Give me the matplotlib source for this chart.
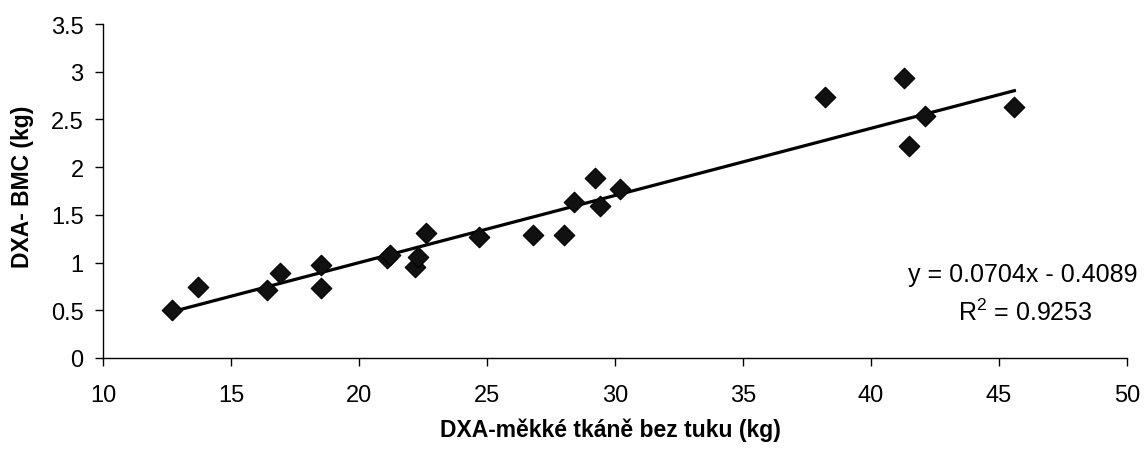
import matplotlib
matplotlib.use("Agg")
import matplotlib.pyplot as plt
import numpy as np

plt.rcParams['font.family'] = ['Liberation Sans', 'DejaVu Sans']

# Data
x_lean = [12.7, 13.7, 16.4, 16.9, 18.5, 18.5, 21.1, 21.2, 22.2, 22.3, 22.6, 24.7,
          26.8, 28.0, 28.4, 29.2, 29.4, 30.2, 38.2, 41.3, 41.5, 42.1, 45.6]
y_bmc = [0.50, 0.74, 0.71, 0.89, 0.97, 0.73, 1.05, 1.08, 0.95, 1.06, 1.31, 1.27,
         1.29, 1.29, 1.63, 1.89, 1.59, 1.77, 2.73, 2.93, 2.22, 2.54, 2.63]
slope = 0.0704
intercept = -0.4089
r2 = 0.9253
x_ticks = [10, 15, 20, 25, 30, 35, 40, 45, 50]
y_ticks = [0, 0.5, 1, 1.5, 2, 2.5, 3, 3.5]
y_tick_labels = ['0', '0.5', '1', '1.5', '2', '2.5', '3', '3.5']

fig = plt.figure(figsize=(11.46, 4.52), dpi=100)
ax = fig.add_axes([103/1146, 1-359/452, (1127-103)/1146, (359-25)/452])

ax.scatter(x_lean, y_bmc, marker='D', s=110, color='#111111', edgecolors='black',
           linewidths=0.8, zorder=3)
xf = np.array([min(x_lean), max(x_lean)])
ax.plot(xf, slope*xf + intercept, color='black', lw=2.3, zorder=2)

ax.set_xlim(10, 50)
ax.set_ylim(0, 3.5)
ax.set_xticks(x_ticks)
ax.set_yticks(y_ticks)
ax.set_yticklabels(y_tick_labels)
for s in ['top', 'right']:
    ax.spines[s].set_visible(False)
for s in ['left', 'bottom']:
    ax.spines[s].set_linewidth(1.0)
ax.tick_params(axis='x', direction='out', length=6, width=1, pad=13, labelsize=17)
ax.tick_params(axis='y', direction='out', length=6, width=1, pad=8, labelsize=17)

ax.set_xlabel('DXA-měkké tkáně bez tuku (kg)', fontsize=16.5, fontweight='bold',
              va='center')
ax.set_ylabel('DXA- BMC (kg)', fontsize=16.5, fontweight='bold', va='center')
ax.xaxis.set_label_coords((610-103)/1024, -(430-359)/334)
ax.yaxis.set_label_coords(-(103-23)/1024, (359-187)/334)

fig.text(1023/1146, 1-282/452, f'y = {slope:.4f}x - {abs(intercept):.4f}',
         ha='center', va='baseline', fontsize=18)
fig.text(1025/1146, 1-321/452, f'$\\mathregular{{R^2}}$ = {r2:.4f}',
         ha='center', va='baseline', fontsize=18)

fig.savefig('out.png', dpi=100)
